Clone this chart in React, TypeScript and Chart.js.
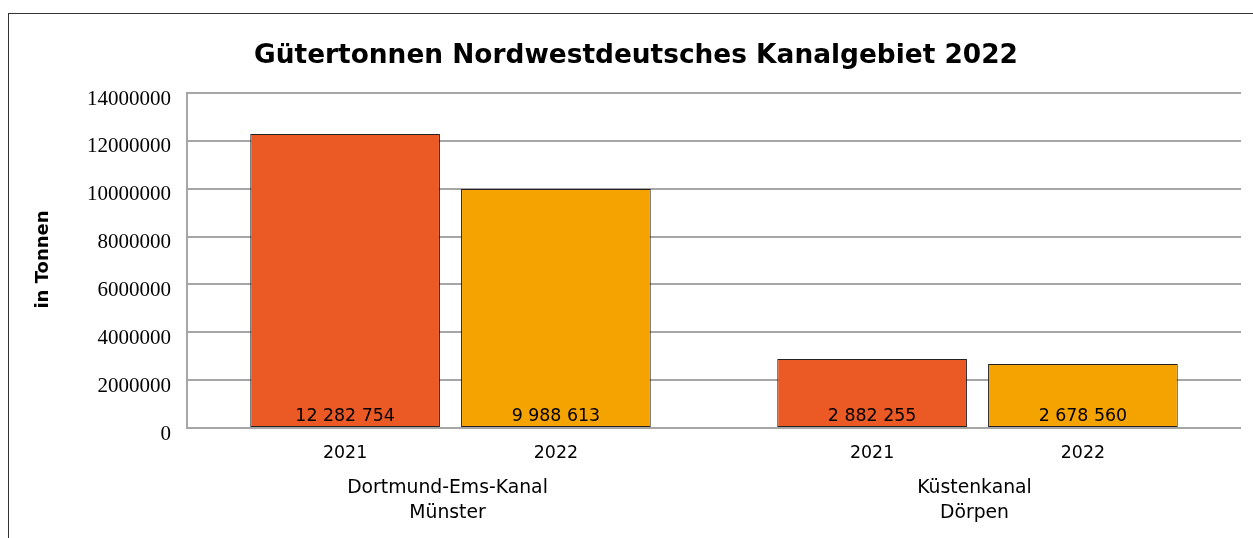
import React, { useEffect, useRef } from "react";
import { Chart, registerables } from "chart.js";

Chart.register(...registerables);

const chartTitle = "Gütertonnen Nordwestdeutsches Kanalgebiet 2022";
const yAxisTitle = "in Tonnen";
const categories = ["Dortmund-Ems-Kanal|Münster", "Küstenkanal|Dörpen"];
const years = ["2021", "2022"];
const values2021 = [12282754, 2882255];
const values2022 = [9988613, 2678560];
const yTickValues = [0, 2000000, 4000000, 6000000, 8000000, 10000000, 12000000, 14000000];

const colors = ["#EB5A25", "#F5A300"];

function fmt(v: number): string {
  return String(v).replace(/\B(?=(\d{3})+(?!\d))/g, " ");
}

const textPlugin = {
  id: "textPlugin",
  beforeDraw(chart: any) {
    const ctx = chart.ctx;
    ctx.save();
    ctx.fillStyle = "#ffffff";
    ctx.fillRect(0, 0, chart.width, chart.height);
    ctx.strokeStyle = "#333333";
    ctx.lineWidth = 1;
    ctx.strokeRect(8.5, 13.5, chart.width + 20, chart.height + 20);
    ctx.restore();
  },
  afterDatasetsDraw(chart: any) {
    const ctx = chart.ctx;
    const area = chart.chartArea;
    const xScale = chart.scales.x;
    ctx.save();
    ctx.fillStyle = "#000000";
    // title
    ctx.font = "bold 26.4px 'DejaVu Sans'";
    ctx.textAlign = "center";
    ctx.textBaseline = "alphabetic";
    ctx.fillText(chartTitle, 636, 63);
    // y axis title
    ctx.save();
    ctx.translate(48, (area.top + area.bottom) / 2 - 1);
    ctx.rotate(-Math.PI / 2);
    ctx.font = "bold 18px 'DejaVu Sans'";
    ctx.fillText(yAxisTitle, 0, 0);
    ctx.restore();
    // value + year labels
    ctx.font = "17.4px 'DejaVu Sans'";
    chart.data.datasets.forEach((ds: any, i: number) => {
      const meta = chart.getDatasetMeta(i);
      meta.data.forEach((bar: any, j: number) => {
        ctx.fillText(fmt(ds.data[j]), bar.x, area.bottom - 7);
        ctx.fillText(years[i], bar.x, area.bottom + 30);
      });
    });
    // category labels
    ctx.font = "18.8px 'DejaVu Sans'";
    categories.forEach((c, j) => {
      const x = xScale.getPixelForValue(j);
      const lines = c.split("|");
      lines.forEach((ln, k) => {
        ctx.fillText(ln, x - 3, area.bottom + 65 + k * 25);
      });
    });
    ctx.restore();
  },
};

export default function App() {
  const ref = useRef<HTMLCanvasElement | null>(null);
  useEffect(() => {
    if (!ref.current) return;
    const chart = new Chart(ref.current, {
      type: "bar",
      data: {
        labels: categories,
        datasets: [
          {
            label: years[0],
            data: values2021,
            backgroundColor: colors[0],
            borderColor: "#222222",
            borderWidth: 1,
            borderSkipped: false,
          },
          {
            label: years[1],
            data: values2022,
            backgroundColor: colors[1],
            borderColor: "#222222",
            borderWidth: 1,
            borderSkipped: false,
          },
        ],
      },
      options: {
        animation: false,
        responsive: false,
        maintainAspectRatio: false,
        layout: { padding: { top: 93, right: 12, left: 0, bottom: 0 } },
        plugins: {
          legend: { display: false },
          title: { display: false },
          tooltip: { enabled: false },
        },
        scales: {
          x: {
            grid: { display: false },
            border: { display: false },
            ticks: { display: false },
            afterFit: (s: any) => {
              s.height = 110;
            },
          },
          y: {
            min: 0,
            max: 14000000,
            afterBuildTicks: (s: any) => {
              s.ticks = yTickValues.map((v) => ({ value: v }));
            },
            afterFit: (s: any) => {
              s.width = 187;
            },
            grid: { color: "#a6a6a6", lineWidth: 2, drawTicks: false },
            border: { color: "#a6a6a6", width: 2 },
            ticks: {
              padding: 16,
              labelOffset: 6,
              color: "#000000",
              font: { family: "'Liberation Serif'", size: 21 },
              callback: (v: any) => String(v),
            },
          },
        },
      },
      plugins: [textPlugin],
    });
    return () => chart.destroy();
  }, []);
  return (
    <div style={{ position: "absolute", left: 0, top: 0, width: 1253, height: 538, overflow: "hidden" }}>
      <canvas ref={ref} width={1253} height={538} style={{ display: "block" }} />
    </div>
  );
}
